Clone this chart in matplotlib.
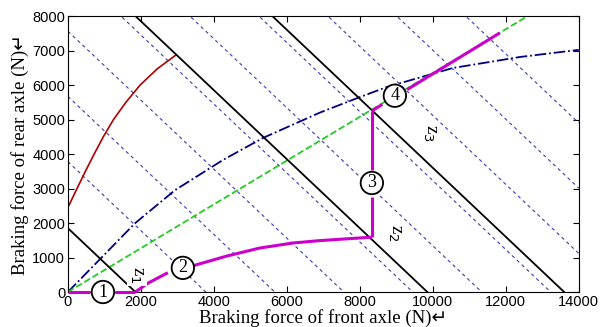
import numpy as np
import matplotlib.pyplot as plt

plt.rcParams['font.family'] = ['Liberation Sans', 'DejaVu Sans']

# constant deceleration lines (Fxb1 + Fxb2 = const), black
z_sums = [1850, 9850, 13600]

# iso lines, thin blue dashed
iso_sums = [3780, 5670, 7560, 9450, 11340, 13230, 15120, 17010, 18900]

# red curve
red_x = [0, 250, 480, 720, 970, 1250, 1590, 1980, 2450, 2960]
red_y = [2450, 3000, 3500, 4000, 4500, 5000, 5500, 6000, 6470, 6870]

# ideal distribution curve, blue dash-dot
ideal_x = [0, 923, 1836, 2932, 4247, 5342, 6904, 8000, 8740, 10548, 12384, 14000]
ideal_y = [0, 1000, 1990, 2950, 3826, 4464, 5200, 5650, 5942, 6493, 6812, 7020]

# beta line, green dashed
beta_x = [0, 12600]
beta_y = [0, 8000]

# actual distribution, magenta (segments between the circled labels)
mag1_x = [0, 600]
mag1_y = [0, 0]
mag2_x = [1290, 1850]
mag2_y = [0, 0]
mag3_x = [1850, 2200, 2740]
mag3_y = [0, 260, 560]
mag4_x = [3425, 4356, 5260, 6164, 6904, 8330]
mag4_y = [760, 1043, 1275, 1420, 1490, 1590]
mag5_x = [8330, 8330]
mag5_y = [1590, 2750]
mag6_x = [8330, 8330]
mag6_y = [3550, 5250]
mag7_x = [8330, 8620]
mag7_y = [5250, 5440]
mag8_x = [9300, 11836]
mag8_y = [5870, 7510]

labels = ['1', '2', '3', '4']
label_x = [960, 3150, 8330, 8960]
label_y = [0, 700, 3160, 5690]

zlabels = ['z$_1$', 'z$_2$', 'z$_3$']
zlabel_x = [1890, 8960, 9920]
zlabel_y = [490, 1710, 4600]

fig = plt.figure(figsize=(6.01, 3.27), dpi=100)
ax = fig.add_axes([0.113, 0.107, 0.85, 0.844])

xx = np.array([0, 14000])
for s in iso_sums:
    ax.plot(xx, s - xx, color='#3a3ab0', lw=0.8, ls=(0, (3, 3)))
ax.plot(ideal_x, ideal_y, color='#000080', lw=1.3, ls='-.')
ax.plot(beta_x, beta_y, color='#22cc22', lw=1.3, ls='--')
ax.plot(red_x, red_y, color='#b00000', lw=1.2)
for s in z_sums:
    ax.plot(xx, s - xx, color='black', lw=1.3)

for mx, my in [(mag1_x, mag1_y), (mag2_x, mag2_y), (mag3_x, mag3_y), (mag4_x, mag4_y),
               (mag5_x, mag5_y), (mag6_x, mag6_y), (mag7_x, mag7_y), (mag8_x, mag8_y)]:
    ax.plot(mx, my, color='#cc00cc', lw=2.2, solid_capstyle='butt', clip_on=False, zorder=5)

for t, x, y in zip(labels, label_x, label_y):
    ax.text(x, y, t, ha='center', va='center', fontsize=13, family='Liberation Serif',
            zorder=6, bbox=dict(boxstyle='circle,pad=0.15', fc='white', ec='black', lw=1.3))

for t, x, y in zip(zlabels, zlabel_x, zlabel_y):
    ax.text(x, y, t, ha='center', va='center', fontsize=13.5, rotation=-90,
            family='Liberation Serif', zorder=6,
            bbox=dict(boxstyle='square,pad=0.1', fc='white', ec='none'))

ax.set_xlim(0, 14000)
ax.set_ylim(0, 8000)
ax.set_xticks(np.arange(0, 14001, 2000))
ax.set_yticks(np.arange(0, 8001, 1000))
ax.tick_params(direction='in', top=True, right=True, length=4, labelsize=10.5, pad=2)
ax.set_xlabel('Braking force of front axle (N)\u21b5', fontsize=13.5,
              family=['Liberation Serif', 'DejaVu Sans'], labelpad=0)
ax.set_ylabel('Braking force of rear axle (N)\u21b5', fontsize=13.5,
              family=['Liberation Serif', 'DejaVu Sans'], labelpad=2)

fig.savefig('out.png', dpi=100)
